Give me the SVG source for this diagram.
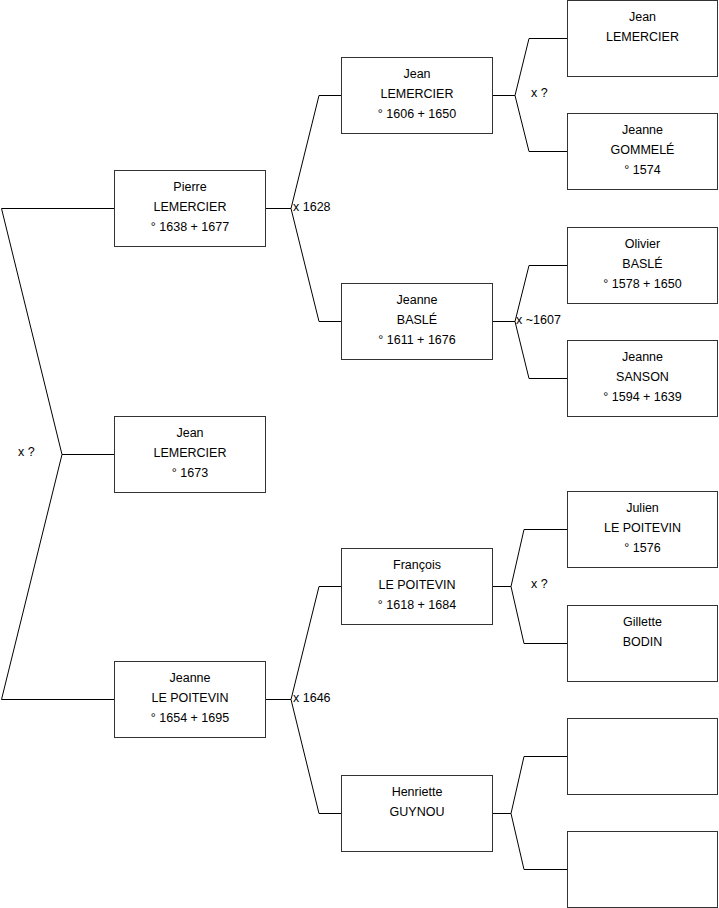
<svg xmlns="http://www.w3.org/2000/svg" width="719" height="908" viewBox="0 0 719 908">
<style>
.box{fill:#fff;stroke:#333;stroke-width:1}
.ln{fill:none;stroke:#000;stroke-width:1}
text{font-family:"Liberation Sans",Arial,sans-serif;font-size:12.5px;fill:#000}
.c{text-anchor:middle}
</style>
<rect width="719" height="908" fill="#fff"/>
<g id="connectors">
<path class="ln" d="M114,208.5H1.5L62,454.5H114M62,454.5L1.5,699.5H114"/>
<path class="ln" d="M265,208.5H291L319,95.5H341M291,208.5L319,321.5H341"/>
<path class="ln" d="M265,699.5H291L319,586.5H341M291,699.5L319,813.5H341"/>
<path class="ln" d="M492,95.5H515L529,38.5H567M515,95.5L529,151.5H567"/>
<path class="ln" d="M492,321.5H515L529,265.5H567M515,321.5L529,378.5H567"/>
<path class="ln" d="M492,586.5H511L524,529.5H567M511,586.5L524,643.5H567"/>
<path class="ln" d="M492,813.5H511L524,756.5H567M511,813.5L524,869.5H567"/>
<text x="18" y="456">x ?</text>
<text x="293" y="211">x 1628</text>
<text x="293" y="702">x 1646</text>
<text x="531" y="97">x ?</text>
<text x="516" y="324">x ~1607</text>
<text x="531" y="588">x ?</text>
</g>
<g id="pierre"><rect class="box" x="114.5" y="170.5" width="151" height="76"/>
<text class="c" x="190" y="191">Pierre</text><text class="c" x="190" y="211">LEMERCIER</text><text class="c" x="190" y="231">° 1638 + 1677</text></g>
<g id="jean-1673"><rect class="box" x="114.5" y="416.5" width="151" height="76"/>
<text class="c" x="190" y="437">Jean</text><text class="c" x="190" y="457">LEMERCIER</text><text class="c" x="190" y="477">° 1673</text></g>
<g id="jeanne-lepoitevin"><rect class="box" x="114.5" y="661.5" width="151" height="76"/>
<text class="c" x="190" y="682">Jeanne</text><text class="c" x="190" y="702">LE POITEVIN</text><text class="c" x="190" y="722">° 1654 + 1695</text></g>
<g id="jean-1606"><rect class="box" x="341.5" y="57.5" width="151" height="76"/>
<text class="c" x="417" y="78">Jean</text><text class="c" x="417" y="98">LEMERCIER</text><text class="c" x="417" y="118">° 1606 + 1650</text></g>
<g id="jeanne-basle"><rect class="box" x="341.5" y="283.5" width="151" height="76"/>
<text class="c" x="417" y="304">Jeanne</text><text class="c" x="417" y="324">BASLÉ</text><text class="c" x="417" y="344">° 1611 + 1676</text></g>
<g id="francois"><rect class="box" x="341.5" y="548.5" width="151" height="76"/>
<text class="c" x="417" y="569">François</text><text class="c" x="417" y="589">LE POITEVIN</text><text class="c" x="417" y="609">° 1618 + 1684</text></g>
<g id="henriette"><rect class="box" x="341.5" y="775.5" width="151" height="76"/>
<text class="c" x="417" y="796">Henriette</text><text class="c" x="417" y="816">GUYNOU</text></g>
<g id="jean-gp"><rect class="box" x="567.5" y="0.5" width="150" height="76"/>
<text class="c" x="642.5" y="21">Jean</text><text class="c" x="642.5" y="41">LEMERCIER</text></g>
<g id="jeanne-gommele"><rect class="box" x="567.5" y="113.5" width="150" height="76"/>
<text class="c" x="642.5" y="134">Jeanne</text><text class="c" x="642.5" y="154">GOMMELÉ</text><text class="c" x="642.5" y="174">° 1574</text></g>
<g id="olivier"><rect class="box" x="567.5" y="227.5" width="150" height="76"/>
<text class="c" x="642.5" y="248">Olivier</text><text class="c" x="642.5" y="268">BASLÉ</text><text class="c" x="642.5" y="288">° 1578 + 1650</text></g>
<g id="jeanne-sanson"><rect class="box" x="567.5" y="340.5" width="150" height="76"/>
<text class="c" x="642.5" y="361">Jeanne</text><text class="c" x="642.5" y="381">SANSON</text><text class="c" x="642.5" y="401">° 1594 + 1639</text></g>
<g id="julien"><rect class="box" x="567.5" y="491.5" width="150" height="76"/>
<text class="c" x="642.5" y="512">Julien</text><text class="c" x="642.5" y="532">LE POITEVIN</text><text class="c" x="642.5" y="552">° 1576</text></g>
<g id="gillette"><rect class="box" x="567.5" y="605.5" width="150" height="76"/>
<text class="c" x="642.5" y="626">Gillette</text><text class="c" x="642.5" y="646">BODIN</text></g>
<g id="empty-1"><rect class="box" x="567.5" y="718.5" width="150" height="76"/></g>
<g id="empty-2"><rect class="box" x="567.5" y="831.5" width="150" height="76"/></g>
</svg>
